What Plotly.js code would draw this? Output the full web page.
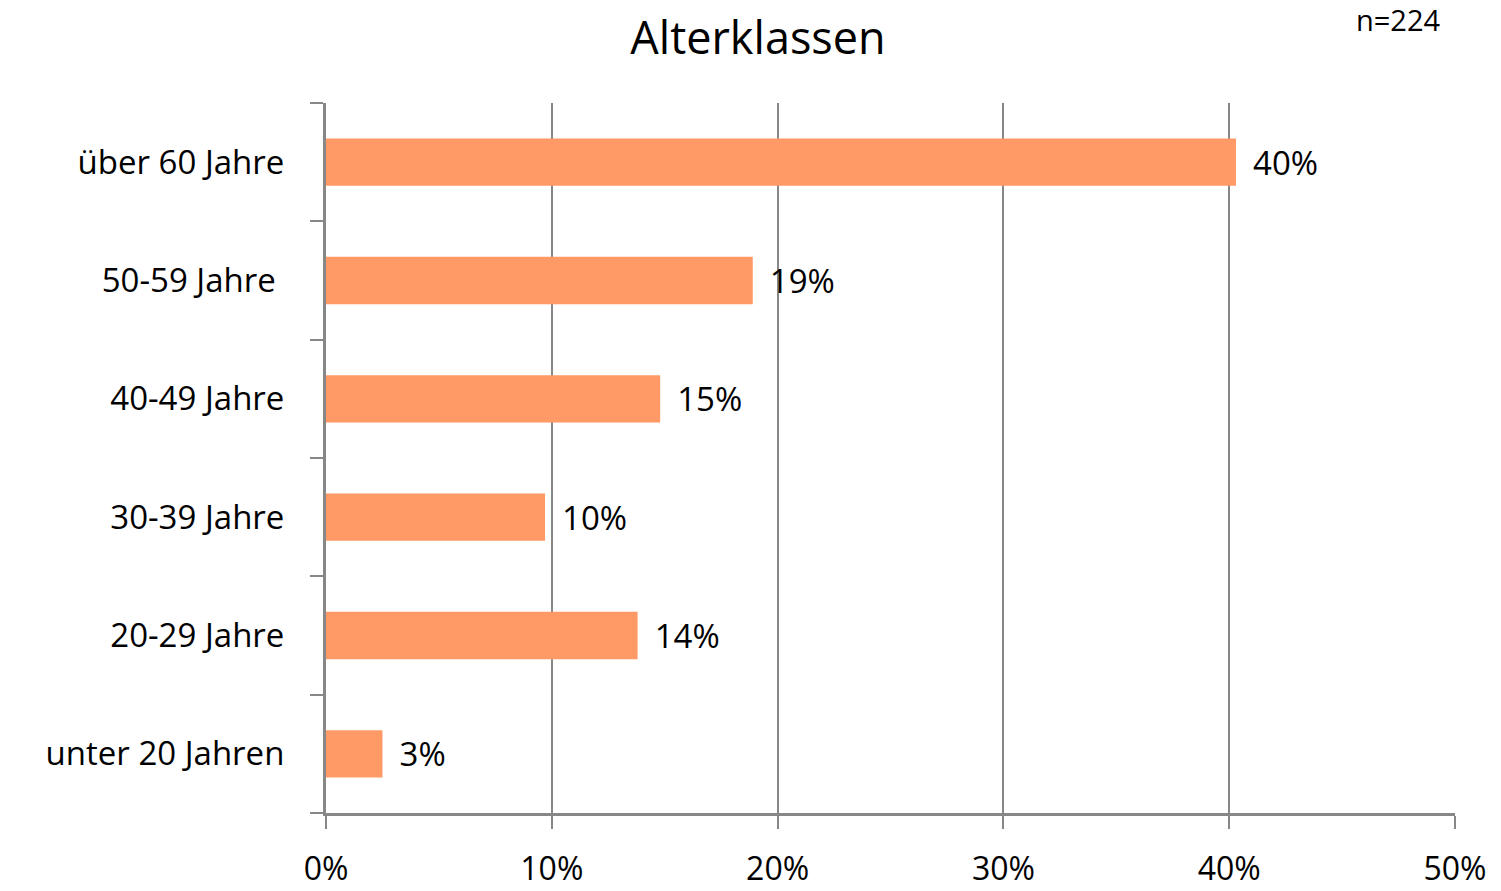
<!DOCTYPE html>
<html>
<head>
<meta charset="utf-8">
<script src="https://cdn.plot.ly/plotly-3.0.1.min.js"></script>
<style>html,body{margin:0;padding:0;background:#fff;}#chart{width:1501px;height:891px;}</style>
</head>
<body>
<div id="chart"></div>
<script>
const categories = ["unter 20 Jahren", "20-29 Jahre", "30-39 Jahre", "40-49 Jahre", "50-59 Jahre\u00a0", "über 60 Jahre"];
const values = [2.5, 13.8, 9.7, 14.8, 18.9, 40.3];
const xTickValues = [0, 10, 20, 30, 40, 50];
const xTickLabels = ["0%", "10%", "20%", "30%", "40%", "50%"];
const sampleNote = "n=224";
const chartTitle = "Alterklassen";

const FONT = "Open Sans, Noto Sans, sans-serif";
const GRAY = "#878787";

const trace = {
  type: "bar",
  orientation: "h",
  y: categories,
  x: values,
  marker: {color: "#FF9966"},
  texttemplate: "\u00a0\u2009%{x:.0f}%",
  textposition: "outside",
  cliponaxis: false,
  textfont: {family: FONT, size: 33, color: "#000"},
  hoverinfo: "none"
};

const layout = {
  width: 1501, height: 891,
  margin: {l: 326, r: 46, t: 103, b: 78},
  paper_bgcolor: "#fff", plot_bgcolor: "#fff",
  showlegend: false,
  bargap: 0.6,
  font: {family: FONT, color: "#000"},
  title: {text: chartTitle, x: 0.505, xanchor: "center", y: 0.957, yanchor: "middle",
          font: {family: FONT, size: 45, color: "#000"}},
  xaxis: {
    range: [0, 50], tickmode: "array", tickvals: xTickValues, ticktext: xTickLabels,
    showgrid: true, gridcolor: GRAY, gridwidth: 2,
    showline: true, linecolor: GRAY, linewidth: 3,
    ticks: "outside", ticklen: 13, tickcolor: GRAY, tickwidth: 2,
    ticklabelstandoff: 13,
    tickfont: {family: FONT, size: 32, color: "#000"},
    zeroline: false, fixedrange: true
  },
  yaxis: {
    type: "category",
    showgrid: false,
    showline: true, linecolor: GRAY, linewidth: 3,
    ticks: "outside", tickson: "boundaries", ticklen: 13, tickcolor: GRAY, tickwidth: 2,
    ticklabelstandoff: 32,
    tickfont: {family: FONT, size: 33, color: "#000"},
    zeroline: false, fixedrange: true
  },
  annotations: [{
    text: sampleNote, xref: "paper", yref: "paper", x: 0.989, y: 1.117,
    xanchor: "right", yanchor: "middle", showarrow: false,
    font: {family: FONT, size: 29, color: "#000"}
  }]
};

Plotly.newPlot("chart", [trace], layout, {displayModeBar: false, staticPlot: true});
</script>
</body>
</html>
